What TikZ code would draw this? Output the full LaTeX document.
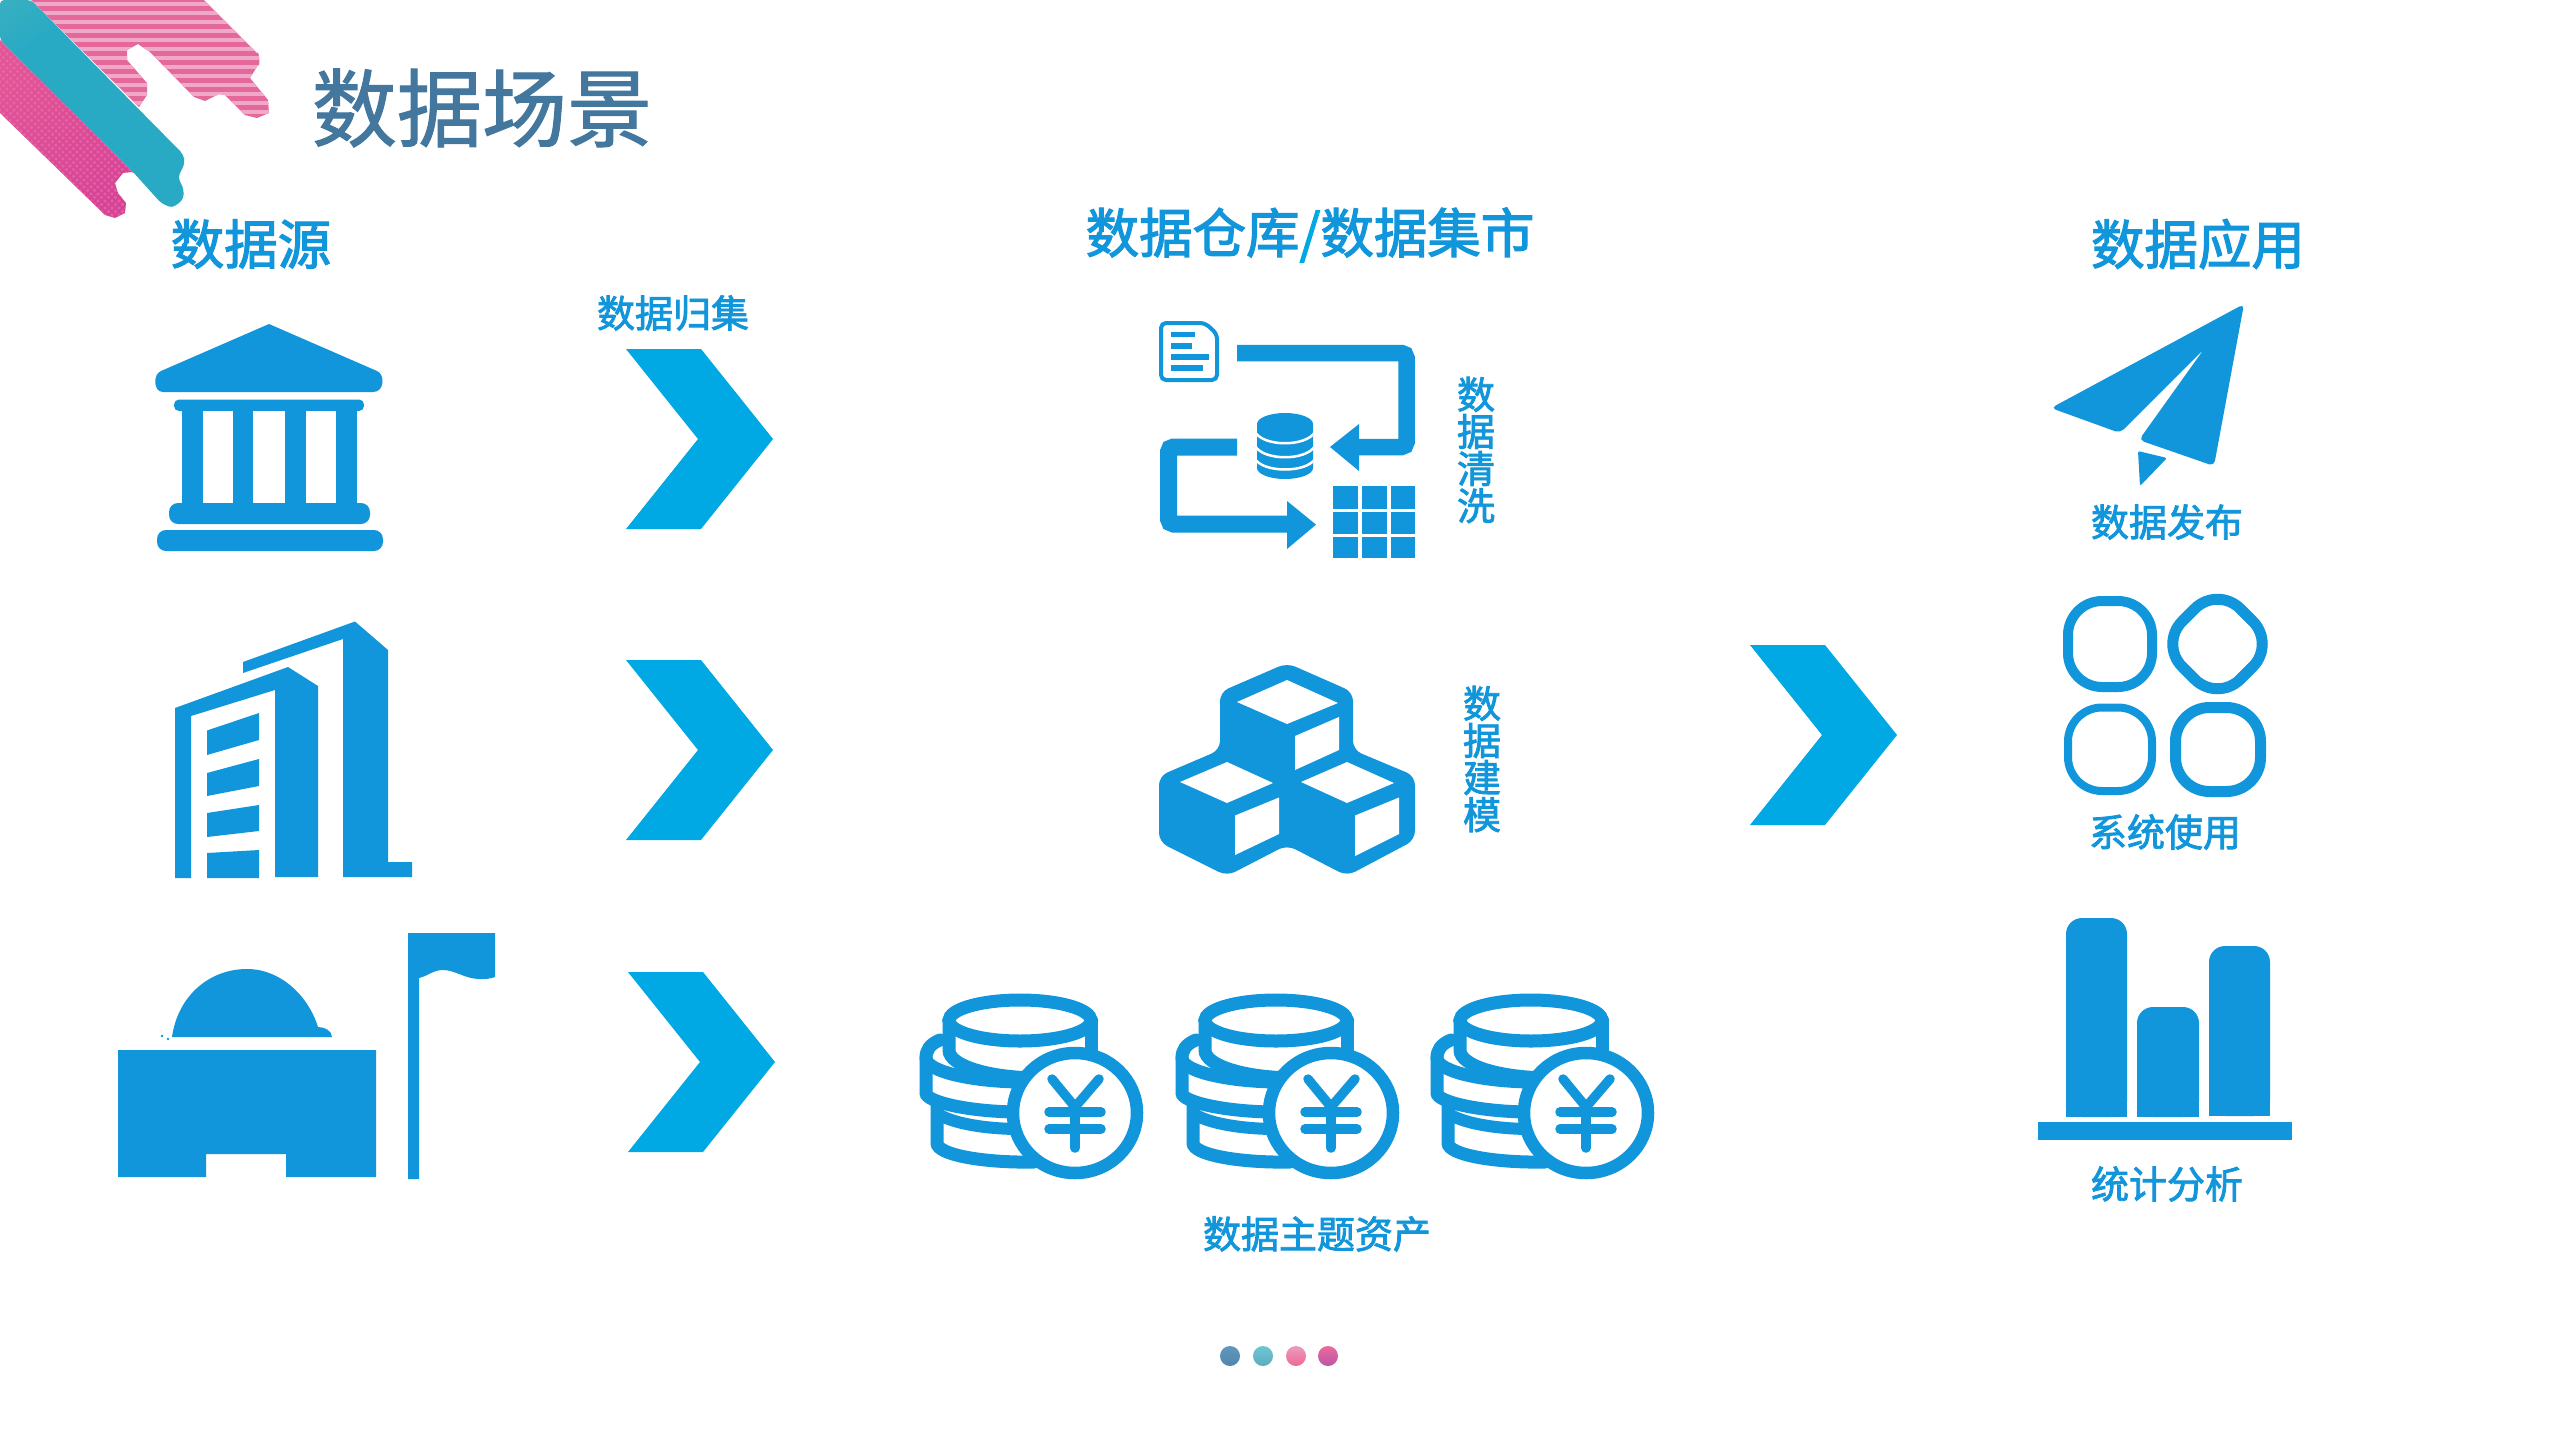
\documentclass[tikz,border=0pt]{standalone}
\usepackage{fontspec}
\setmainfont{Noto Sans CJK SC}
\newfontfamily\cjkb[FakeBold=2.2]{Noto Sans CJK SC}
\newfontfamily\cjkt[FakeBold=1.2]{Noto Sans CJK SC}
\definecolor{iconblue}{HTML}{1296DB}
\definecolor{chevblue}{HTML}{00A9E3}
\definecolor{titleblue}{HTML}{44779E}
\definecolor{tealA}{RGB}{66,183,190}
\definecolor{tealB}{RGB}{41,170,196}
\definecolor{tealC}{RGB}{88,186,186}
\pgfdeclareverticalshading{tealband}{100bp}{color(0bp)=(tealA);color(22bp)=(tealB);color(68bp)=(tealB);color(100bp)=(tealC)}
\tikzset{
  ic/.style={fill=iconblue,draw=none},
  hole/.style={fill=white,draw=none},
  ln/.style={draw=iconblue,fill=none},
  chevronshape/.style={fill=chevblue,draw=none},
  titletext/.style={text=titleblue,inner sep=0pt,font=\cjkt\fontsize{24.2pt}{24.2pt}\selectfont},
  headtext/.style={text=iconblue,inner sep=0pt,font=\cjkb\fontsize{15.2pt}{15.2pt}\selectfont},
  labeltext/.style={text=iconblue,inner sep=0pt,font=\cjkb\fontsize{10.8pt}{10.8pt}\selectfont},
  vlabeltext/.style={text=iconblue,inner sep=0pt,align=center,font=\cjkb\fontsize{10.8pt}{10.55pt}\selectfont},
}
\newcommand{\chevronat}[2]{\fill[chevronshape] (#1,#2-90)--(#1+75,#2-90)--(#1+147,#2)--(#1+75,#2+90)--(#1,#2+90)--(#1+72,#2)--cycle;}
\begin{document}
\begin{tikzpicture}[x=0.01cm,y=-0.01cm]
\useasboundingbox (0,0) rectangle (2559,1439);
\fill[white] (0,0) rectangle (2559,1439);
% decoration: pink stripes
\begin{scope}
\clip (31,0)--(204,0)--(257,53) to[out=60,in=-60] (258,65)--(250,78)--(268,100)--(269,113)--(257,118)--(245,115)--(225,95)--(219,94)--(205,101)--(194,97)--(150,52)--(138,44)--(127,50)--(127,60)--(147,83)--(147,95)--(139,107)--cycle;
\fill[fill={rgb,255:red,228;green,104;blue,154}] (0,0) rectangle (300,130);
\foreach \y in {4,13,...,130} \draw[line width=0.045cm,color={rgb,255:red,240;green,168;blue,200}] (0,\y)--(300,\y);
\end{scope}
% decoration: magenta dots
\begin{scope}
\clip (0,40)--(134,173)--(132,172)--(123,173)--(115,183)--(118,193)--(126,203)--(125,213)--(115,218)--(105,215)--(0,113)--cycle;
\shade[top color={rgb,255:red,226;green,84;blue,150},middle color={rgb,255:red,176;green,54;blue,150},bottom color={rgb,255:red,214;green,66;blue,150},shading angle=35] (0,35) rectangle (140,222);
\foreach \x in {0,7,...,140}\foreach \y in {40,47,...,222}{
  \fill[color={rgb,255:red,238;green,120;blue,175},opacity=.5] (\x,\y) circle[radius=1.9];
  \fill[color={rgb,255:red,238;green,120;blue,175},opacity=.5] (\x+3.5,\y+3.5) circle[radius=1.9];}
\end{scope}
% decoration: teal band
\begin{scope}
\clip[rounded corners=0.04cm] (0,0)--(31,0)--(183,154)--(185,163)--(178,177)--(184,190)--(183,200)--(172,208)--(161,203)--(134,173)--(0,40)--cycle;
\shade[shading=tealband,shading angle=35] (-20,-20) rectangle (210,230);
\end{scope}
% titles
\node[titletext] (title) at (482,108) {数据场景};
\node[headtext] (hsrc) at (251,244) {数据源};
\node[headtext] (hdw) at (1310,235) {数据仓库{\color{chevblue}/}数据集市};
\node[headtext] (happ) at (2198,244) {数据应用};
\node[labeltext] (lcollect) at (673,313) {数据归集};
\node[vlabeltext] (lclean) at (1476,450) {数\\据\\清\\洗};
\node[vlabeltext] (lmodel) at (1482,759) {数\\据\\建\\模};
\node[labeltext] (lasset) at (1317,1234) {数据主题资产};
\node[labeltext] (lpub) at (2167,522) {数据发布};
\node[labeltext] (luse) at (2165,832) {系统使用};
\node[labeltext] (lstat) at (2167,1184) {统计分析};
% chevrons
\chevronat{626}{439}
\chevronat{626}{750}
\chevronat{628}{1062}
\chevronat{1750}{735}
% bank
\fill[ic] (269,324)--(377,371) .. controls (385,374) and (385,392) .. (373,392)--(163,392) .. controls (153,392) and (153,374) .. (161,371)--cycle;
\fill[ic,rounded corners=0.05cm] (174,399.5) rectangle (364,411);
\fill[ic] (182,405) rectangle (357,510);
\fill[hole] (203,411) rectangle (233,503);
\fill[hole] (253,411) rectangle (285,503);
\fill[hole] (306,411) rectangle (336,503);
\fill[ic,rounded corners=0.09cm] (169,503) rectangle (370,524);
\fill[ic,rounded corners=0.09cm] (157,530) rectangle (383,551);
% building
\fill[ic] (243,662)--(355,621.5)--(388,650)--(388,862)--(412,862)--(412,877)--(343,877)--(343,639)--(243,673)--cycle;
\fill[ic] (175,708)--(288,667)--(318,686)--(318,877)--(275,877)--(275,690)--(191,716)--(191,878)--(175,878)--cycle;
\fill[ic] (207,730.5)--(259,713)--(259,740)--(207,755)--cycle;
\fill[ic] (207,773)--(259,759)--(259,786)--(207,796)--cycle;
\fill[ic] (207,813)--(259,805)--(259,831)--(207,837)--cycle;
\fill[ic] (207,853)--(259,850)--(259,878)--(207,878)--cycle;
% observatory + flag
\fill[ic] (172,1037) .. controls (178,995) and (210,969) .. (247,969) .. controls (280,969) and (308,995) .. (318,1027) .. controls (325,1027) and (332,1031) .. (332,1037)--cycle;
\fill[ic] (162,1036) circle[radius=1.3];
\fill[ic] (168,1039) circle[radius=1.3];
\fill[ic] (118,1050)--(376,1050)--(376,1177)--(286,1177)--(286,1154)--(206,1154)--(206,1177)--(118,1177)--cycle;
\fill[ic] (408,933)--(495,933)--(495,977) .. controls (490,979) and (485,979) .. (480,979) .. controls (465,979) and (455,970) .. (443,970) .. controls (433,970) and (428,976) .. (419,978)--(419,1179)--(408,1179)--cycle;
% cleaning icon: document
\draw[ln,line width=0.04cm,rounded corners=0.05cm] (1161,323)--(1205,323)--(1217,334)--(1217,380)--(1161,380)--cycle;
\foreach \xe/\ye in {1195/334.5,1192/346,1209/357,1203/368}
  \draw[ln,line width=0.055cm] (1171,\ye)--(\xe,\ye);
% upper arrow
\draw[ln,line width=0.165cm,rounded corners=0.05cm] (1237,353)--(1406.5,353)--(1406.5,447)--(1355,447);
\fill[ic] (1330,447)--(1359,424)--(1359,471)--cycle;
% database
\begin{scope}
\clip (1257,412) rectangle (1313,481);
\fill[ic] (1257,424)--(1313,424)--(1313,468) arc[start angle=0,end angle=180,x radius=28,y radius=11]--cycle;
\fill[ic] (1285,424) ellipse[x radius=28,y radius=11];
\draw[white,line width=0.025cm] (1255,432) .. controls (1264,447) and (1306,447) .. (1315,432);
\draw[white,line width=0.025cm] (1255,446) .. controls (1264,461) and (1306,461) .. (1315,446);
\draw[white,line width=0.025cm] (1255,459) .. controls (1264,473) and (1306,473) .. (1315,459);
\end{scope}
% lower arrow
\draw[ln,line width=0.17cm,rounded corners=0.05cm] (1237,447)--(1168.5,447)--(1168.5,524)--(1290,524);
\fill[ic] (1316,524.6)--(1287,501)--(1287,549)--cycle;
% grid
\foreach \xa/\xb in {1333/1358,1362/1387,1391/1415}
  \foreach \ya/\yb in {485.6/508.6,511.6/534,537/558}
    \fill[ic] (\xa,\ya) rectangle (\xb,\yb);
% cubes
\fill[ic,rounded corners=0.09cm] (1287,663)--(1353,692)--(1353,750)--(1415,776)--(1415,840)--(1347,876)--(1287,845)--(1227,876)--(1159,842)--(1159,776)--(1220,750)--(1220,692)--cycle;
\fill[hole] (1287,680)--(1338,703)--(1287,724)--(1237,702)--cycle;
\fill[hole] (1339,717)--(1339,750)--(1295,770)--(1295,736)--cycle;
\fill[hole] (1227,762)--(1273,783)--(1227,803)--(1180,782)--cycle;
\fill[hole] (1279,797.5)--(1279,834)--(1235,855)--(1235,815.5)--cycle;
\fill[hole] (1347,762)--(1394,783)--(1347,803)--(1301,782)--cycle;
\fill[hole] (1399,797.5)--(1399,834)--(1355,856)--(1355,815.5)--cycle;
% coins
\foreach \ox in {0,256,511}{
\begin{scope}[shift={(\ox,0)},line cap=round]
  \draw[ln,line width=0.13cm] (1020,1020.5) ellipse[x radius=71,y radius=20.5];
  \draw[ln,line width=0.13cm] (949,1020)--(949,1050) .. controls (949,1066) and (990,1078) .. (1040,1078);
  \draw[ln,line width=0.13cm] (1091,1020)--(1091,1060);
  \draw[ln,line width=0.13cm] (940,1040) .. controls (930,1044) and (926,1050) .. (926,1058)--(926,1093) .. controls (926,1102) and (970,1112) .. (1020,1112);
  \draw[ln,line width=0.13cm] (926,1058) .. controls (926,1072) and (975,1082) .. (1024,1082);
  \draw[ln,line width=0.13cm] (937,1105)--(937,1143) .. controls (937,1155) and (985,1163) .. (1034,1162);
  \draw[ln,line width=0.12cm] (937,1113) .. controls (950,1123) and (985,1129) .. (1020,1129);
  \draw[draw=iconblue,fill=white,line width=0.125cm] (1075,1113) ellipse[x radius=62,y radius=60];
  \draw[ln,line width=0.095cm] (1052,1079)--(1075,1107)--(1099,1079);
  \draw[ln,line width=0.095cm] (1075,1107)--(1075,1148);
  \draw[ln,line width=0.095cm] (1049,1112)--(1101,1112);
  \draw[ln,line width=0.095cm] (1049,1129)--(1101,1129);
\end{scope}}
% paper plane
\fill[ic,rounded corners=0.05cm] (2244,304)--(2214,466)--(2139,440)--(2204,349)--(2120,433)--(2051,408)--cycle;
\fill[ic,rounded corners=0.02cm] (2138,451)--(2167,458)--(2140,486)--cycle;
% squircles
\draw[ln,line width=0.10cm,rounded corners=0.34cm] (2068,601) rectangle (2152,687);
\draw[ln,line width=0.08cm,rounded corners=0.34cm] (2068,707.5) rectangle (2152,791);
\draw[ln,line width=0.11cm,rounded corners=0.34cm] (2175.5,707.5) rectangle (2260.5,791.5);
\draw[ln,line width=0.11cm,rounded corners=0.32cm] (2217.5,586)--(2275.5,644)--(2217.5,702)--(2159.5,644)--cycle;
% bars
\fill[ic,rounded corners=0.16cm] (2066,1117)--(2066,918)--(2127,918)--(2127,1117)--cycle;
\fill[ic] (2066,1100) rectangle (2127,1117);
\fill[ic,rounded corners=0.16cm] (2137,1117)--(2137,1007)--(2199,1007)--(2199,1117)--cycle;
\fill[ic] (2137,1100) rectangle (2199,1117);
\fill[ic,rounded corners=0.16cm] (2209,1116)--(2209,946)--(2270,946)--(2270,1116)--cycle;
\fill[ic] (2209,1100) rectangle (2270,1116);
\fill[ic] (2038,1122) rectangle (2292,1140);
% pager dots
\shade[top color={rgb,255:red,100;green,150;blue,188},bottom color={rgb,255:red,78;green,135;blue,172}] (1230,1356) circle[radius=10];
\shade[top color={rgb,255:red,112;green,198;blue,214},bottom color={rgb,255:red,92;green,172;blue,188}] (1263,1356) circle[radius=10];
\shade[top color={rgb,255:red,232;green,156;blue,192},bottom color={rgb,255:red,240;green,104;blue,146}] (1296,1356) circle[radius=10];
\shade[top color={rgb,255:red,236;green,106;blue,156},bottom color={rgb,255:red,186;green,86;blue,164}] (1328,1356) circle[radius=10];
\end{tikzpicture}
\end{document}
